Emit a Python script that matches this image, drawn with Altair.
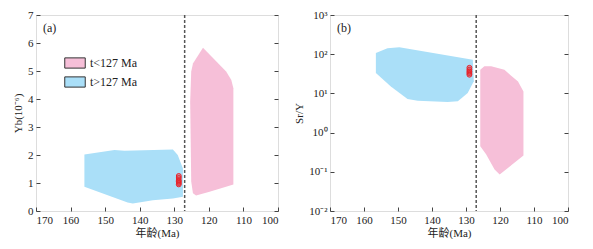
import altair as alt
import pandas as pd

# ---- data ----
grp_young = "t<127 Ma"
grp_old = "t>127 Ma"

# Panel (a): Yb (10^-6) vs age
a_blue_age = [156.0, 147.3, 144.4, 130.4, 129.0, 127.5, 127.5, 130.4, 136.2, 142.0, 143.5, 156.0]
a_blue_yb = [2.02, 2.18, 2.15, 2.20, 2.00, 1.52, 0.51, 0.45, 0.38, 0.27, 0.30, 0.87]
a_pink_age = [124.6, 121.7, 115.0, 113.5, 112.9, 112.9, 119.8, 123.7, 124.6, 125.1, 125.4, 125.1]
a_pink_yb = [5.27, 5.83, 4.98, 4.68, 4.38, 0.95, 0.69, 0.55, 0.63, 1.05, 3.90, 4.98]
a_pts_age = [128.7, 128.7, 128.7, 128.7, 128.7, 128.7]
a_pts_yb = [0.95, 1.00, 1.05, 1.10, 1.18, 1.25]

# Panel (b): Sr/Y vs age
b_blue_age = [156.5, 153.1, 149.6, 128.0, 127.7, 129.5, 132.4, 135.4, 144.2, 147.2, 152.1, 156.5]
b_blue_sry = [107, 141, 150, 72, 20.5, 10.2, 6.3, 6.0, 6.5, 7.2, 15, 33]
b_pink_age = [125.8, 124.6, 122.6, 118.7, 114.7, 113.1, 113.1, 120.1, 121.6, 124.1, 125.8, 125.8]
b_pink_sry = [40, 49, 49, 40, 20, 11.2, 0.26, 0.085, 0.115, 0.28, 0.45, 24.5]
b_pts_age = [129.0, 129.0, 129.0, 129.0, 129.0]
b_pts_sry = [30, 33, 36, 40, 45]

boundary_age = [127]
x_ticks = [170, 160, 150, 140, 130, 120, 110, 100]
ya_ticks = [0, 1, 2, 3, 4, 5, 6, 7]
yb_ticks = [0.01, 0.1, 1, 10, 100, 1000]

PINK = "#f6bfd8"
BLUE = "#aadff8"
RED = "#e8242c"
FONT = "Liberation Serif, Noto Sans CJK SC"
AX = "#444444"

def poly(ages, vals, name):
    return pd.DataFrame({"age": ages, "v": vals, "i": list(range(len(ages))), "group": name})

H = 196

def x_enc():
    return alt.X("age:Q",
                 scale=alt.Scale(domain=[100, 170], reverse=True, nice=False, zero=False),
                 axis=alt.Axis(values=x_ticks, title="年龄(Ma)", grid=False, domain=False,
                               offset=-4, tickSize=4, tickColor=AX, labelPadding=3,
                               labelFont=FONT, labelFontSize=11, labelColor="#222",
                               titleFont=FONT, titleFontSize=11, titleFontWeight="normal",
                               titleColor="#222", titlePadding=2))

def panel(blue, pink, pts, yscale, left_axis, label, width, legend=False):
    fill_scale = alt.Scale(domain=[grp_young, grp_old], range=[PINK, BLUE])
    if legend:
        fill_enc = alt.Fill("group:N", scale=fill_scale,
                            legend=alt.Legend(title=None, orient="none", legendX=28, legendY=37,
                                              symbolType="M-1,-0.5H1V0.5H-1Z", symbolSize=420,
                                              symbolStrokeColor="#333", symbolStrokeWidth=1,
                                              symbolOpacity=1, rowPadding=-8,
                                              labelFont=FONT, labelFontSize=12, labelColor="#222"))
    else:
        fill_enc = alt.Fill("group:N", scale=fill_scale, legend=None)
    y_left = alt.Y("v:Q", scale=yscale, axis=left_axis)
    y_none = alt.Y("v:Q", scale=yscale, axis=None)
    lb = alt.Chart(blue).mark_line(strokeWidth=0, fillOpacity=1).encode(
        x=x_enc(), y=y_left, order="i:Q", fill=fill_enc)
    lp = alt.Chart(pink).mark_line(strokeWidth=0, fillOpacity=1).encode(
        x=x_enc(), y=y_none, order="i:Q", fill=fill_enc)
    rule = alt.Chart(pd.DataFrame({"age": boundary_age})).mark_rule(
        color="#555", strokeDash=[3, 2], strokeWidth=1.5).encode(x=x_enc())
    pt = alt.Chart(pts).mark_point(shape="circle", size=24, filled=False, color=RED,
                                   strokeWidth=1, fill=RED, fillOpacity=0.35).encode(
        x=x_enc(), y=y_none)
    right = alt.Chart(pts).mark_point(opacity=0).encode(
        x=x_enc(),
        y=alt.Y("v:Q", scale=yscale,
                axis=alt.Axis(orient="right", labels=False, title=None, grid=False, domain=False,
                              offset=-4, tickSize=4, tickColor=AX, values=left_axis.values)))
    txt = alt.Chart(pd.DataFrame({"t": [label]})).mark_text(
        font=FONT, fontSize=12, align="left", baseline="top", color="#222").encode(
        text="t:N", x=alt.value(7), y=alt.value(8))
    return alt.layer(lb, lp, rule, pt, right, txt).resolve_axis(y="independent").properties(
        width=width, height=H)

axis_a = alt.Axis(values=ya_ticks, title="Yb(10⁻⁶)", grid=False, domain=False, offset=-4,
                  tickSize=4, tickColor=AX, labelPadding=3, labelFont=FONT, labelFontSize=11,
                  labelColor="#222", titleFont=FONT, titleFontSize=11, titleFontWeight="normal",
                  titleColor="#222", titlePadding=4)
axis_b = alt.Axis(values=yb_ticks, title="Sr/Y", grid=False, domain=False, offset=-4,
                  tickSize=4, tickColor=AX, labelPadding=3, labelFont=FONT, labelFontSize=11,
                  labelColor="#222", titleFont=FONT, titleFontSize=11, titleFontWeight="normal",
                  titleColor="#222", titlePadding=4,
                  labelExpr="['10⁻²','10⁻¹','10⁰','10¹','10²','10³'][round(log(datum.value)/LN10)+2]")

df_ab = poly(a_blue_age, a_blue_yb, grp_old)
df_ap = poly(a_pink_age, a_pink_yb, grp_young)
df_apt = pd.DataFrame({"age": a_pts_age, "v": a_pts_yb})
df_bb = poly(b_blue_age, b_blue_sry, grp_old)
df_bp = poly(b_pink_age, b_pink_sry, grp_young)
df_bpt = pd.DataFrame({"age": b_pts_age, "v": b_pts_sry})

pa = panel(df_ab, df_ap, df_apt, alt.Scale(domain=[0, 7], nice=False, zero=False), axis_a, "(a)", 242, legend=True)
pb = panel(df_bb, df_bp, df_bpt, alt.Scale(type="log", domain=[0.01, 1000], nice=False), axis_b, "(b)", 238)

chart = alt.hconcat(pa, pb, spacing=14).resolve_scale(fill="independent").configure_view(
    stroke=AX, strokeWidth=1.2).configure(padding={"left": 4, "top": 0, "right": 5, "bottom": 0})

chart.save("out.html", embed_options={"renderer": "svg", "actions": False})
